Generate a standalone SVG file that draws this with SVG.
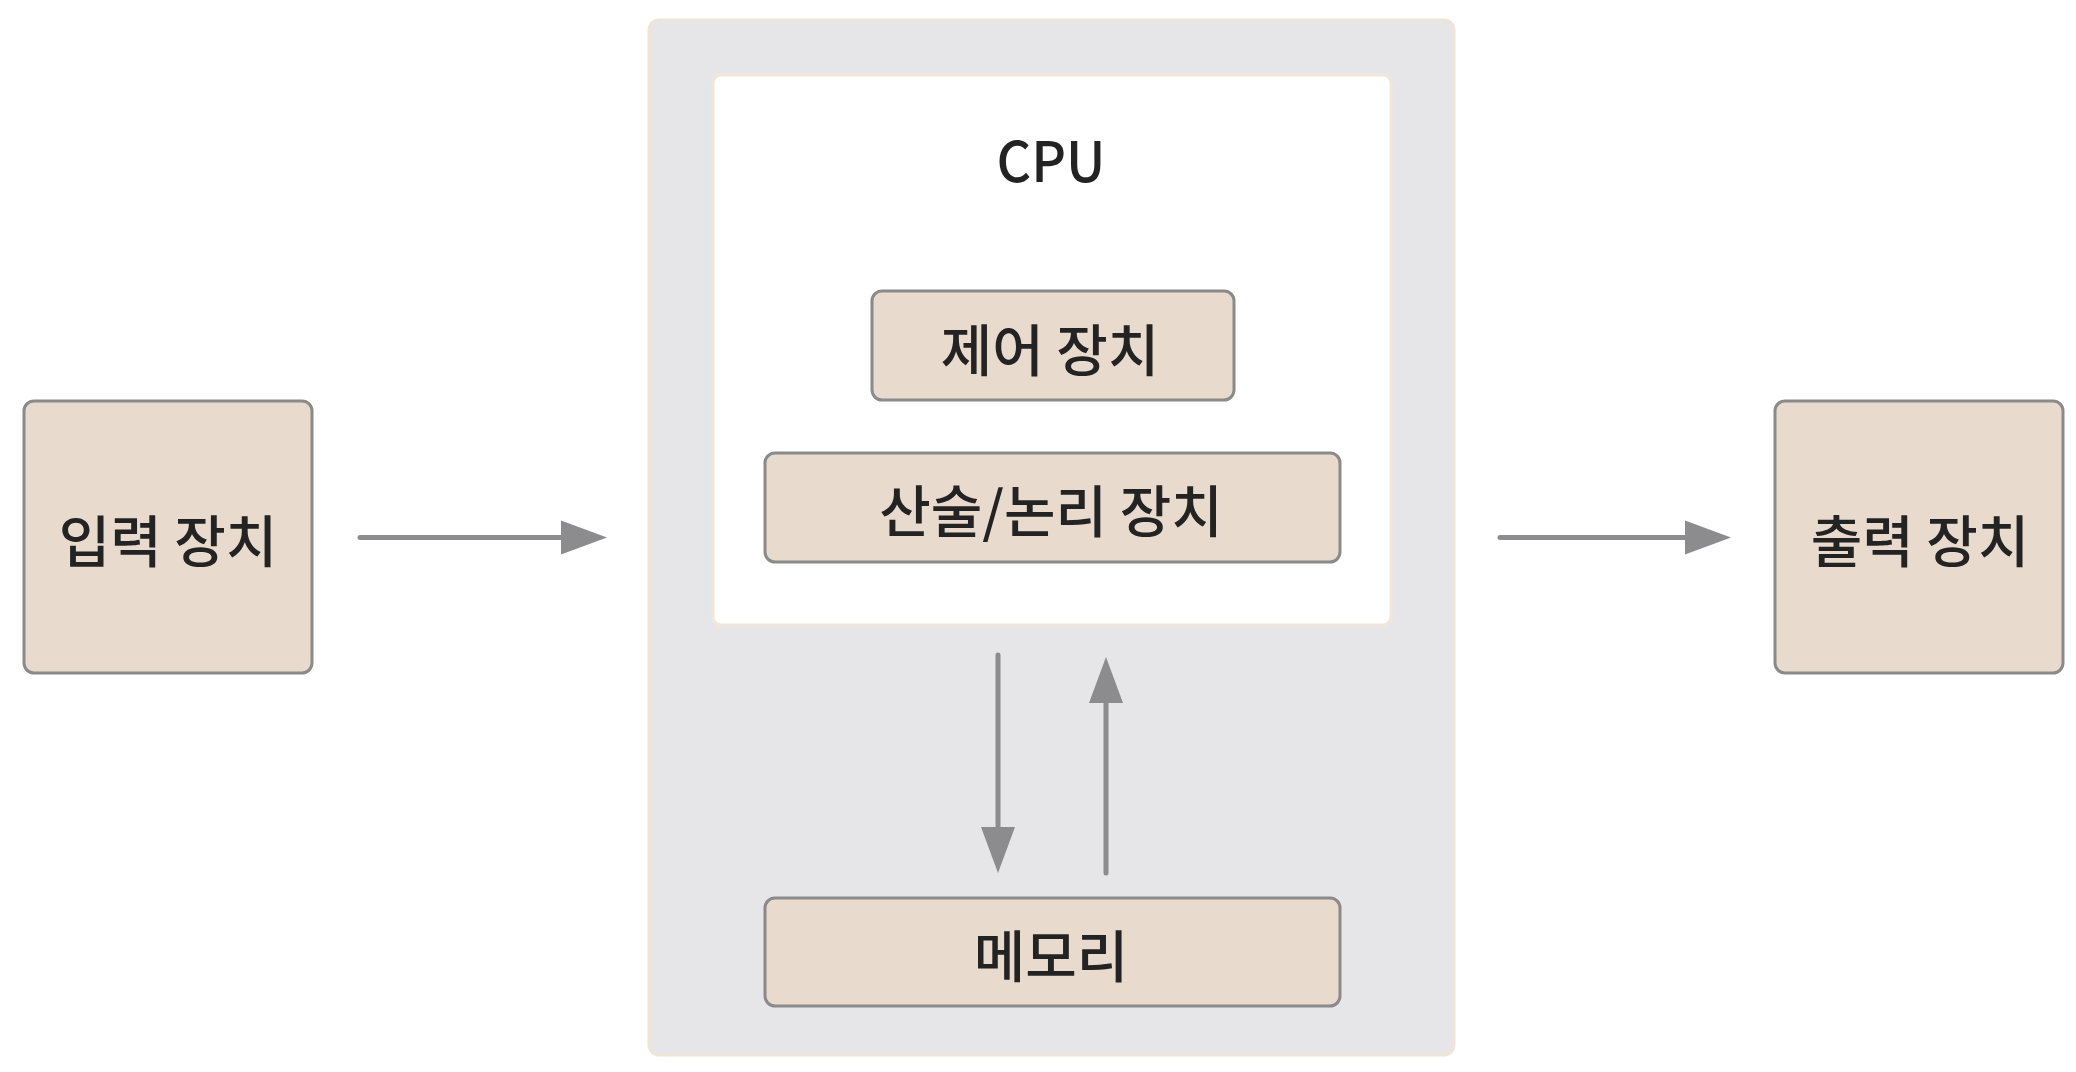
<svg xmlns="http://www.w3.org/2000/svg" width="2076" height="1072" viewBox="0 0 2076 1072">
  <style>
    .unit { fill: #e8dbcd; stroke: #8a8a8a; stroke-width: 3; }
    .label { font-family: "Noto Sans CJK KR", "Noto Sans", sans-serif; font-size: 56px; font-weight: 500; fill: #232323; text-anchor: middle; dominant-baseline: central; }
    .wire { stroke: #8c8c8e; stroke-width: 5; fill: none; stroke-linecap: round; marker-end: url(#head); }
  </style>
  <defs>
    <!-- arrowhead begins where the shaft stops -->
    <marker id="head" markerUnits="userSpaceOnUse" markerWidth="48" markerHeight="36" refX="1" refY="18" orient="auto" overflow="visible">
      <path d="M0,1 L46,18 L0,35 z" fill="#8c8c8e"/>
    </marker>
  </defs>

  <rect width="2076" height="1072" fill="#ffffff"/>

  <!-- computer housing -->
  <g id="system">
    <rect x="649" y="20" width="805" height="1035" rx="10" fill="#e6e6e8" stroke="#efe4d8" stroke-width="3"/>
  </g>

  <!-- CPU block -->
  <g id="cpu">
    <rect x="713" y="75" width="678" height="550" rx="8" fill="#ffffff" stroke="#f1e6da" stroke-width="3"/>
    <text class="label" x="1051" y="157" font-size="62" textLength="109" lengthAdjust="spacingAndGlyphs">CPU</text>
  </g>

  <g id="control-unit">
    <rect class="unit" x="872" y="291" width="362" height="109" rx="10"/>
    <text class="label" x="1050" y="346">제어 장치</text>
  </g>

  <g id="alu">
    <rect class="unit" x="765" y="453" width="575" height="109" rx="10"/>
    <text class="label" x="1051" y="507">산술/논리 장치</text>
  </g>

  <g id="memory">
    <rect class="unit" x="765" y="898" width="575" height="108" rx="10"/>
    <text class="label" x="1051" y="952">메모리</text>
  </g>

  <g id="input-device">
    <rect class="unit" x="24" y="401" width="288" height="272" rx="10"/>
    <text class="label" x="168" y="537">입력 장치</text>
  </g>

  <g id="output-device">
    <rect class="unit" x="1775" y="401" width="288" height="272" rx="10"/>
    <text class="label" x="1920" y="537">출력 장치</text>
  </g>

  <!-- data flow -->
  <g id="connectors">
    <line class="wire" x1="360" y1="537.5" x2="562" y2="537.5"/>
    <line class="wire" x1="1500" y1="537.5" x2="1686" y2="537.5"/>
    <line class="wire" x1="998" y1="655" x2="998" y2="828"/>
    <line class="wire" x1="1106" y1="873" x2="1106" y2="702"/>
  </g>
</svg>
